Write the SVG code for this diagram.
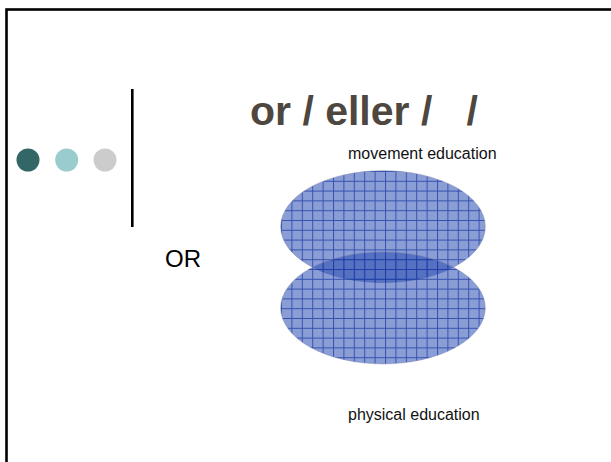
<svg xmlns="http://www.w3.org/2000/svg" width="611" height="462" viewBox="0 0 611 462">
  <style>
    .title { font-family: "Liberation Sans", Arial, sans-serif; font-weight: bold; font-size: 41px; fill: #4D4740; }
    .label { font-family: "Liberation Sans", Arial, sans-serif; font-size: 16px; fill: #111111; }
    .big { font-family: "Liberation Sans", Arial, sans-serif; font-size: 24px; fill: #000000; }
    .set { fill: url(#grid); stroke: #7A82AE; stroke-width: 0.8; stroke-opacity: 0.6; }
  </style>
  <defs>
    <pattern id="grid" patternUnits="userSpaceOnUse" x="281" y="171" width="10.4" height="9.8">
      <rect x="0" y="0" width="10.4" height="9.8" fill="#2B4DB3" fill-opacity="0.55"/>
      <path d="M0 0.5 H10.4 M0.5 0 V9.8" stroke="#1838A0" stroke-width="1" stroke-opacity="0.75" fill="none"/>
    </pattern>
  </defs>
  <rect x="0" y="0" width="611" height="462" fill="#FFFFFF"/>
  <g id="frame">
    <rect x="6.5" y="9.5" width="700" height="600" fill="none" stroke="#000000" stroke-width="2.6"/>
  </g>
  <g id="bullets">
    <circle cx="28" cy="160" r="11.5" fill="#336666"/>
    <circle cx="66.7" cy="160" r="11.5" fill="#99CCCC"/>
    <circle cx="105" cy="160" r="11.5" fill="#CCCCCC"/>
  </g>
  <g id="divider">
    <line x1="132.3" y1="89" x2="132.3" y2="227" stroke="#000000" stroke-width="2.6"/>
  </g>
  <g id="title">
    <text class="title" x="250" y="125" xml:space="preserve">or / eller /   /</text>
  </g>
  <g id="or-label">
    <text class="big" x="165" y="267">OR</text>
  </g>
  <g id="movement-education">
    <ellipse class="set" cx="383" cy="226.7" rx="102.3" ry="56"/>
    <text class="label" x="348" y="159">movement education</text>
  </g>
  <g id="physical-education">
    <ellipse class="set" cx="383" cy="307.9" rx="102.3" ry="56"/>
    <text class="label" x="348" y="420">physical education</text>
  </g>
  <g id="connectors"/>
</svg>
